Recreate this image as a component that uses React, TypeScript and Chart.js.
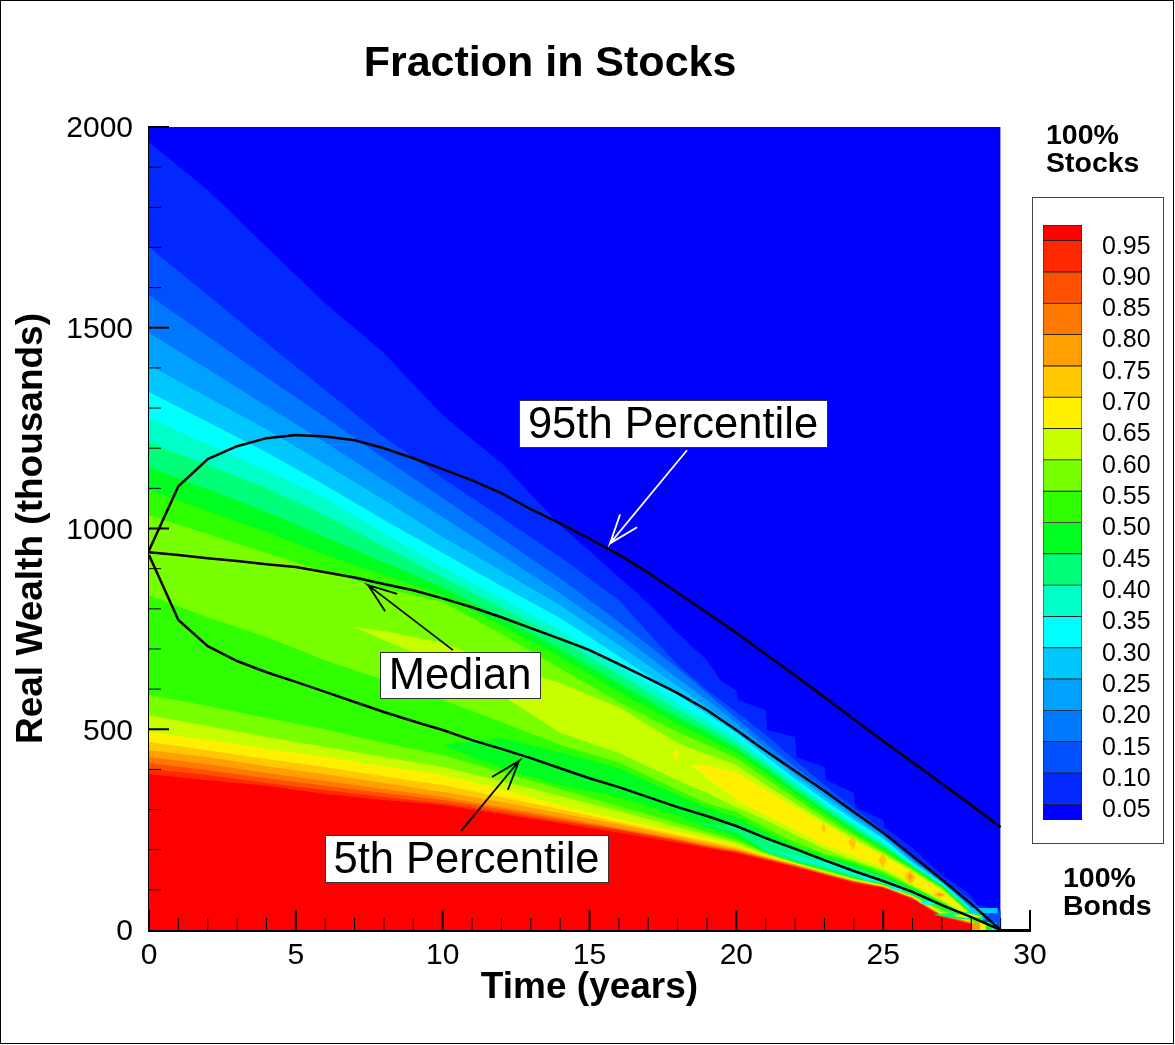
import { useEffect, useRef } from 'react';
import Chart from 'chart.js/auto';

const FONT = '"Liberation Sans", Arial, sans-serif';

// colour of each band of the legend, lowest fraction first
const bandColors = [
    '#0000ff', '#0028ff', '#0050ff', '#0078ff', '#00a0ff', '#00c8ff', '#00ffff', '#00ffc8', '#00ff78', '#00ff20',
    '#30ff00', '#78ff00', '#c8ff00', '#fff000', '#ffc800', '#ffa000', '#ff7800', '#ff5000', '#ff2800', '#ff0000',
];
const bandEdges = [0.025, 0.05, 0.1, 0.15, 0.2, 0.25, 0.3, 0.35, 0.4, 0.45, 0.5, 0.55, 0.6, 0.65, 0.7, 0.75, 0.8, 0.85, 0.9, 0.95, 0.975];
const legendTicks = [0.05, 0.1, 0.15, 0.2, 0.25, 0.3, 0.35, 0.4, 0.45, 0.5, 0.55, 0.6, 0.65, 0.7, 0.75, 0.8, 0.85, 0.9, 0.95];

const years = [0, 2, 4, 6, 8, 10, 12, 14, 16, 18, 19, 20, 21, 22, 23, 24, 25, 26, 27, 28, 28.5, 29];
const outerYears = [0, 2, 4, 6, 8, 10, 12, 14, 16, 17, 18, 19, 19.5, 20, 20.05, 21, 21.05, 22, 22.05, 23, 23.05, 24, 24.05, 25, 25.05, 26, 27, 27.9, 28.2, 28.9, 29];
const ridgeYears = [7, 8, 10, 12, 14, 16, 18, 19, 20, 21, 22, 23, 24, 25, 26, 27, 28, 28.5, 29];
const yellowYears = [18.5, 19, 20, 21, 22, 23, 24, 25, 26, 27, 28];
const valleyYears = [10, 12, 14, 16, 18, 19, 20, 21, 22, 23, 24, 25, 26, 27, 28];
const deepYears = [18, 19, 20, 21, 22, 23, 24, 25, 26, 27, 28];
const cyanYears = [21, 22, 23, 24, 25, 26];

// contour edges, real wealth in thousands, top of the plot downward
const top = [2000, 2000];
const c05 = [1962, 1843, 1701, 1561, 1437, 1282, 1163, 1008, 879, 814, 740, 672, 618, 598, 573, 548, 498, 481, 431, 406, 374, 341, 306, 274, 256, 204, 137, 92, 62, 50, 50];
const c10 = [1701, 1581, 1462, 1345, 1228, 1125, 1028, 929, 822, 660, 598, 543, 486, 423, 361, 304, 249, 182, 129, 75, 45, 45];
const c15 = [1581, 1479, 1377, 1277, 1175, 1076, 976, 876, 767, 652, 590, 528, 466, 406, 351, 296, 244, 179, 124, 62, 30, 5];
const c20 = [1487, 1397, 1305, 1215, 1120, 1028, 934, 839, 737, 627, 573, 515, 453, 396, 341, 289, 239, 174, 122, 57, 27, 2];
const c25 = [1407, 1327, 1247, 1160, 1071, 979, 894, 809, 710, 608, 555, 503, 443, 386, 334, 281, 232, 172, 120, 55, 25, 2];
const c30 = [1340, 1265, 1190, 1108, 1021, 939, 857, 777, 682, 585, 538, 491, 433, 376, 324, 274, 227, 167, 117, 52, 22, 0];
const c35 = [1275, 1210, 1145, 1076, 989, 904, 827, 747, 657, 565, 523, 478, 423, 369, 316, 266, 219, 164, 115, 50, 22, 0];
const c40 = [1215, 1158, 1101, 1033, 956, 879, 804, 725, 637, 548, 508, 466, 413, 359, 309, 259, 212, 162, 112, 47, 20, 0];
const c45 = [1153, 1098, 1041, 979, 916, 854, 779, 700, 615, 530, 493, 453, 403, 349, 299, 251, 207, 157, 110, 45, 20, 0];
const c50 = [1096, 1043, 991, 934, 884, 834, 759, 680, 593, 513, 478, 441, 391, 339, 291, 244, 202, 154, 107, 42, 17, 0];
const c55 = [1033, 986, 939, 891, 852, 817, 737, 652, 568, 493, 461, 428, 378, 329, 281, 237, 194, 152, 105, 40, 17, 0];
const ridgeTop = [754, 745, 715, 660, 615, 555, 466, 438, 411, 361, 316, 271, 229, 189, 147, 102, 37, 15, 0];
const yellowTop = [411, 411, 391, 349, 306, 264, 222, 184, 144, 97, 35];
const yellowBottom = [411, 378, 324, 286, 249, 212, 184, 157, 117, 77, 35];
const ridgeBottom = [754, 722, 660, 585, 491, 441, 373, 341, 306, 274, 237, 202, 174, 149, 110, 72, 30, 12, 0];
const fall55 = [834, 779, 730, 672, 622, 573, 518, 461, 418, 349, 316, 294, 254, 219, 189, 170, 144, 107, 70, 27, 10, 0];
const valleyTop = [461, 478, 443, 403, 336, 304, 281, 244, 209, 185, 165, 137, 105, 67, 27];
const deepTop = [281, 264, 259, 229, 199, 179, 157, 132, 100, 62, 27];
const cyanTop = [204, 187, 169, 147, 124, 88];
const cyanBottom = [204, 177, 157, 134, 115, 88];
const deepBottom = [281, 261, 244, 194, 170, 152, 132, 113, 86, 55, 27];
const valleyBottom = [461, 403, 361, 331, 284, 256, 232, 193, 170, 151, 130, 113, 86, 54, 27];
const rise55 = [585, 558, 528, 500, 466, 436, 393, 351, 309, 266, 244, 224, 192, 169, 149, 129, 112, 85, 50, 25, 0, 0];
const rise60 = [535, 508, 481, 456, 431, 406, 371, 334, 296, 256, 237, 217, 189, 167, 147, 127, 112, 85, 45, 22, 0, 0];
const rise65 = [493, 473, 451, 431, 408, 386, 351, 311, 276, 244, 227, 209, 187, 167, 144, 124, 110, 82, 40, 22, 0, 0];
const rise70 = [468, 448, 426, 406, 383, 361, 331, 301, 269, 237, 222, 207, 184, 164, 144, 124, 110, 82, 40, 20, 0, 0];
const rise75 = [448, 431, 408, 388, 366, 344, 319, 291, 264, 232, 217, 202, 182, 164, 142, 122, 107, 80, 37, 20, 0, 0];
const rise80 = [431, 413, 391, 371, 351, 331, 306, 281, 254, 227, 212, 199, 179, 162, 142, 122, 107, 80, 37, 17, 0, 0];
const rise85 = [416, 398, 378, 359, 341, 324, 301, 276, 251, 224, 209, 197, 179, 159, 139, 120, 107, 80, 35, 17, 0, 0];
const rise90 = [401, 386, 366, 349, 331, 316, 294, 271, 249, 222, 207, 194, 177, 159, 139, 120, 105, 77, 35, 15, 0, 0];
const rise95 = [388, 373, 359, 339, 324, 311, 289, 266, 242, 217, 204, 192, 174, 157, 137, 117, 105, 77, 32, 15, 0, 0];

// [years, edge, band index], painted in this order, each one down to zero
const contourLayers: [number[], number[], number][] = [
    [[0, 29], top, 0],
    [outerYears, c05, 1],
    [years, c10, 2],
    [years, c15, 3],
    [years, c20, 4],
    [years, c25, 5],
    [years, c30, 6],
    [years, c35, 7],
    [years, c40, 8],
    [years, c45, 9],
    [years, c50, 10],
    [years, c55, 11],
    [ridgeYears, ridgeTop, 12],
    [yellowYears, yellowTop, 13],
    [yellowYears, yellowBottom, 12],
    [ridgeYears, ridgeBottom, 11],
    [years, fall55, 10],
    [valleyYears, valleyTop, 9],
    [deepYears, deepTop, 8],
    [cyanYears, cyanTop, 7],
    [cyanYears, cyanBottom, 8],
    [deepYears, deepBottom, 9],
    [valleyYears, valleyBottom, 10],
    [years, rise55, 11],
    [years, rise60, 12],
    [years, rise65, 13],
    [years, rise70, 14],
    [years, rise75, 15],
    [years, rise80, 16],
    [years, rise85, 17],
    [years, rise90, 18],
    [years, rise95, 19],
];

// small islands near the end of the run: [years, wealth, band index]
const islands: [number[], number[], number][] = [
    [[17.85, 17.95, 18.05, 17.95], [436, 452, 436, 420], 13],
    [[22.9, 22.97, 23.04, 22.97], [254, 268, 254, 240], 14],
    [[23.83, 23.95, 24.07, 23.95], [217, 237, 217, 197], 14],
    [[24.85, 24.98, 25.11, 24.98], [174, 194, 174, 154], 14],
    [[25.72, 25.92, 26.12, 25.92], [132, 152, 132, 112], 14],
    [[25.82, 25.92, 26.02, 25.92], [132, 142, 132, 122], 15],
    [[26.7, 26.92, 27.14, 26.92], [88, 96, 88, 80], 14],
    [[26.8, 26.92, 27.04, 26.92], [88, 92, 88, 84], 15],
    [[24.2, 24.5, 24.8, 24.5], [130, 135, 126, 122], 6],
    [[25.2, 25.5, 25.8, 25.5], [103, 108, 100, 98], 6],
    [[26.2, 26.5, 26.8, 26.5], [68, 73, 65, 62], 6],
    [[26.7, 27.7, 28.6, 27.7], [38, 46, 36, 26], 8],
    [[27.3, 27.9, 28.35, 27.9], [36, 42, 33, 29], 13],
    [[27.95, 28.9, 28.9, 27.95], [55, 55, 42, 42], 5],
    [[28.4, 28.9, 28.9, 28.4], [27, 27, 20, 20], 2],
    [[28.02, 28.3, 28.3, 28.02], [18, 18, 0, 0], 15],
    [[28.3, 28.5, 28.5, 28.3], [18, 18, 0, 0], 13],
    [[28.5, 28.7, 28.7, 28.5], [18, 18, 0, 0], 9],
    [[28.7, 28.85, 28.85, 28.7], [18, 18, 0, 0], 6],
];

const curveYears = [0, 1, 2, 3, 4, 5, 6, 7, 8, 9, 10, 11, 12, 13, 14, 15, 16, 17, 18, 19, 20, 21, 22, 23, 24, 25, 26, 27, 28, 29];
const p95 = [945, 1105, 1173, 1205, 1225, 1233, 1229, 1220, 1200, 1175, 1148, 1120, 1088, 1048, 1013, 975, 935, 890, 840, 790, 740, 687, 634, 580, 525, 471, 418, 364, 311, 256];
const median = [941, 934, 926, 919, 911, 904, 891, 878, 862, 846, 826, 804, 779, 752, 725, 697, 662, 627, 590, 548, 498, 446, 396, 346, 294, 242, 184, 125, 65, 0];
const p05 = [934, 772, 707, 670, 642, 618, 593, 568, 543, 520, 498, 473, 451, 428, 403, 378, 356, 331, 306, 284, 259, 229, 202, 174, 147, 122, 95, 62, 32, 0];

// arrow paths: tail, tip, barb, tip, other barb
const arrow95Years = [18.32, 15.7, 16.04, 15.7, 16.62];
const arrow95Wealth = [1195, 963, 1035, 963, 1003];
const arrowMedianYears = [10.35, 7.46, 8.45, 7.46, 8.04];
const arrowMedianWealth = [697, 859, 837, 859, 794];
const arrow05Years = [10.63, 12.6, 11.68, 12.6, 12.22];
const arrow05Wealth = [247, 421, 381, 421, 349];

const xMajorTicks = [0, 5, 10, 15, 20, 25, 30];
const xMinorTicks = [1, 2, 3, 4, 6, 7, 8, 9, 11, 12, 13, 14, 16, 17, 18, 19, 21, 22, 23, 24, 26, 27, 28, 29];
const yMajorTicks = [500, 1000, 1500, 2000];
const yMinorTicks = [100, 200, 300, 400, 600, 700, 800, 900, 1100, 1200, 1300, 1400, 1600, 1700, 1800, 1900];

const toPoints = (xs: number[], ys: number[]) => xs.map((x, i) => ({ x, y: ys[i] }));

// inner tick marks, percentile labels and the free text round the plot
const decorations = {
    id: 'decorations',
    afterDatasetsDraw(chart: Chart) {
        const { ctx, chartArea, scales } = chart;
        const tick = (x1: number, y1: number, x2: number, y2: number, w: number) => {
            ctx.lineWidth = w;
            ctx.beginPath();
            ctx.moveTo(x1, y1);
            ctx.lineTo(x2, y2);
            ctx.stroke();
        };
        ctx.save();
        ctx.strokeStyle = '#000';
        xMinorTicks.forEach(v => {
            const x = scales.x.getPixelForValue(v);
            tick(x, chartArea.bottom, x, chartArea.bottom - 12, 1);
        });
        xMajorTicks.forEach(v => {
            const x = scales.x.getPixelForValue(v);
            tick(x, chartArea.bottom, x, chartArea.bottom - 20, 2);
        });
        yMinorTicks.forEach(v => {
            const y = scales.y.getPixelForValue(v);
            tick(chartArea.left, y, chartArea.left + 12, y, 1);
        });
        yMajorTicks.forEach(v => {
            const y = scales.y.getPixelForValue(v);
            tick(chartArea.left, y, chartArea.left + 20, y, 2);
        });

        const label = (text: string, x1: number, y1: number, x2: number, y2: number) => {
            ctx.fillStyle = '#fff';
            ctx.fillRect(x1, y1, x2 - x1, y2 - y1);
            ctx.lineWidth = 1;
            ctx.strokeStyle = '#333';
            ctx.strokeRect(x1 + 0.5, y1 + 0.5, x2 - x1, y2 - y1);
            ctx.fillStyle = '#000';
            ctx.font = `43.5px ${FONT}`;
            ctx.textAlign = 'center';
            ctx.textBaseline = 'middle';
            ctx.fillText(text, (x1 + x2) / 2, (y1 + y2) / 2 + 2);
        };
        label('95th Percentile', 519, 400, 827, 447);
        label('Median', 380, 652, 540, 698);
        label('5th Percentile', 325, 835, 608, 882);

        ctx.fillStyle = '#000';
        ctx.textBaseline = 'middle';
        ctx.textAlign = 'center';
        ctx.font = `bold 43px ${FONT}`;
        ctx.fillText('Fraction in Stocks', 550, 64);
        ctx.textAlign = 'left';
        ctx.font = `bold 28.5px ${FONT}`;
        ctx.fillText('100%', 1046, 136);
        ctx.fillText('Stocks', 1046, 164);
        ctx.fillText('100%', 1063, 879);
        ctx.fillText('Bonds', 1063, 907);
        ctx.restore();
    },
};

export default function App() {
    const plotRef = useRef<HTMLCanvasElement>(null);
    const legendRef = useRef<HTMLCanvasElement>(null);

    useEffect(() => {
        document.body.style.margin = '0';
        if (!plotRef.current || !legendRef.current) return;

        const fills = contourLayers.map(([xs, ys, band]) => ({
            data: toPoints(xs, ys),
            borderWidth: 0,
            pointRadius: 0,
            backgroundColor: bandColors[band],
            fill: 'origin',
        }));
        const patches = islands.map(([xs, ys, band]) => ({
            data: toPoints(xs, ys),
            borderWidth: 0,
            pointRadius: 0,
            backgroundColor: bandColors[band],
            fill: 'shape',
        }));
        const curve = (xs: number[], ys: number[], color: string, width: number) => ({
            data: toPoints(xs, ys),
            borderColor: color,
            borderWidth: width,
            pointRadius: 0,
            fill: false,
        });
        const all: any[] = [
            ...fills,
            ...patches,
            curve(curveYears, p95, '#000', 2.5),
            curve(curveYears, median, '#000', 2.5),
            curve(curveYears, p05, '#000', 2.5),
            curve(arrow95Years, arrow95Wealth, '#fff', 1.8),
            curve(arrowMedianYears, arrowMedianWealth, '#000', 1.8),
            curve(arrow05Years, arrow05Wealth, '#000', 1.8),
        ];
        // chart.js paints the lowest order last, so the list above runs bottom to top
        all.forEach((d, i) => { d.order = all.length - i; });

        const plot = new Chart(plotRef.current, {
            type: 'line',
            data: { datasets: all },
            plugins: [decorations],
            options: {
                responsive: false,
                animation: false,
                layout: { padding: { top: 127, right: 145, left: 0, bottom: 0 } },
                plugins: { legend: { display: false }, tooltip: { enabled: false } },
                scales: {
                    x: {
                        type: 'linear',
                        min: 0,
                        max: 30,
                        afterFit: (s: any) => { s.height = 115; },
                        grid: { display: false, drawTicks: false },
                        border: { display: true, color: '#000', width: 3 },
                        ticks: { stepSize: 5, color: '#000', padding: 8, maxRotation: 0, font: { family: FONT, size: 30 } },
                        title: { display: true, text: 'Time (years)', color: '#000', padding: { top: 0, bottom: 35 }, font: { family: FONT, size: 37, weight: 'bold' } },
                    },
                    y: {
                        min: 0,
                        max: 2000,
                        afterFit: (s: any) => { s.width = 149; },
                        grid: { display: false, drawTicks: false },
                        border: { display: true, color: '#000', width: 3 },
                        ticks: {
                            stepSize: 500,
                            color: '#000',
                            padding: 16,
                            labelOffset: 2,
                            callback: (v: any) => String(v),
                            font: { family: FONT, size: 30 },
                        },
                        title: { display: true, text: 'Real Wealth (thousands)', color: '#000', padding: { top: 10, bottom: 0 }, font: { family: FONT, size: 37, weight: 'bold' } },
                    },
                },
            },
        } as any);

        const legend = new Chart(legendRef.current, {
            type: 'bar',
            data: {
                labels: [''],
                datasets: bandColors.map((color, i) => ({
                    data: [[bandEdges[i], bandEdges[i + 1]]],
                    backgroundColor: color,
                    borderColor: '#222',
                    borderWidth: 0.8,
                    borderSkipped: false,
                    barPercentage: 1,
                    categoryPercentage: 1,
                })),
            },
            options: {
                responsive: false,
                animation: false,
                layout: { padding: { left: 10, top: 27, bottom: 23, right: 0 } },
                plugins: { legend: { display: false }, tooltip: { enabled: false } },
                scales: {
                    x: { display: false, stacked: false },
                    y: {
                        position: 'right',
                        min: 0.025,
                        max: 0.975,
                        afterFit: (s: any) => { s.width = 81; s.paddingTop = 0; s.paddingBottom = 0; },
                        afterBuildTicks: (s: any) => { s.ticks = legendTicks.map(value => ({ value })); },
                        grid: { display: false, drawTicks: false },
                        border: { display: false },
                        ticks: {
                            autoSkip: false,
                            color: '#000',
                            padding: 20,
                            labelOffset: 6,
                            callback: (v: any) => Number(v).toFixed(2),
                            font: { family: FONT, size: 25 },
                        },
                    },
                },
                datasets: { bar: { grouped: false } },
            },
        } as any);

        return () => {
            plot.destroy();
            legend.destroy();
        };
    }, []);

    return (
        <div style={{ position: 'relative', width: 1175, height: 1045, background: '#fff', overflow: 'hidden' }}>
            <canvas ref={plotRef} width={1175} height={1045} style={{ position: 'absolute', left: 0, top: 0 }} />
            <div style={{ position: 'absolute', left: 1032, top: 197, width: 132, height: 647, boxSizing: 'border-box', border: '1px solid #444', background: '#fff' }}>
                <canvas ref={legendRef} width={130} height={645} style={{ display: 'block' }} />
            </div>
            <div style={{ position: 'absolute', left: 0, top: 0, width: 1174, height: 1044, boxSizing: 'border-box', border: '1px solid #000', pointerEvents: 'none' }} />
        </div>
    );
}
